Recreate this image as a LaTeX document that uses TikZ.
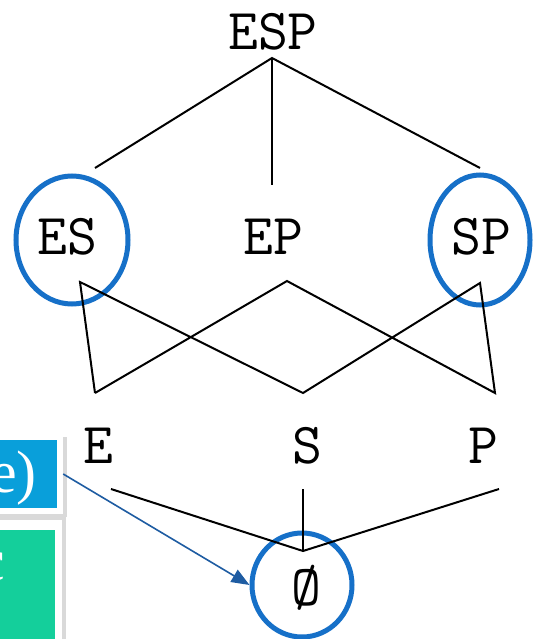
\documentclass[tikz,border=0pt]{standalone}
\usepackage{fontspec}
\setmainfont{Liberation Serif}
\usetikzlibrary{arrows.meta,shapes.geometric}
\definecolor{ringblue}{RGB}{22,112,200}
\definecolor{arrowblue}{RGB}{30,92,162}
\definecolor{boxblue}{RGB}{9,159,218}
\definecolor{boxgreen}{RGB}{20,207,155}
\begin{document}
\begin{tikzpicture}[x=1pt,y=-1pt,
  lbl/.style={font=\ttfamily\fontsize{58}{62}\selectfont, inner sep=0pt, anchor=center},
  edge/.style={draw=black, line width=2pt},
  ring/.style={draw=ringblue, line width=5pt, ellipse, inner sep=0pt},
  frame/.style={fill=white, draw=none, rectangle, inner sep=0pt},
  shade/.style={fill=black, opacity=0.15, draw=none},
  arrowc/.style={draw=arrowblue, line width=1.6pt, -{Triangle[length=18pt,width=14pt]}},
  boxtext/.style={font=\rmfamily\fontsize{60}{64}\selectfont, text=white, inner sep=0pt}]
\useasboundingbox (0,0) rectangle (533,639);
\fill[white] (0,0) rectangle (533,639);

% labels
\node[lbl] (ESP) at (273,32) {ESP};
\node[lbl] (ES) at (67,237) {ES};
\node[lbl] (EP) at (273,237) {EP};
\node[lbl] (SP) at (481,237) {SP};
\node[lbl] (E) at (98,446) {E};
\node[lbl] (S) at (307,446) {S};
\node[lbl] (P) at (483,446) {P};
\node[lbl] (O) at (306,588) {Ø};

% rings
\node[ring, minimum width=112pt, minimum height=128pt] (ESring) at (72,240) {};
\node[ring, minimum width=100pt, minimum height=130pt] (SPring) at (480,240) {};
\node[ring, minimum width=100pt, minimum height=104pt] (Oring) at (302,585) {};

% connector ends
\coordinate (espB) at (272,58);
\coordinate (esT) at (95,168);
\coordinate (epT) at (272,185);
\coordinate (spT) at (480,168);
\coordinate (esB) at (80,282);
\coordinate (epB) at (287,281);
\coordinate (spB) at (480,283);
\coordinate (eT) at (95,393);
\coordinate (sT) at (303,393);
\coordinate (pT) at (495,393);
\coordinate (eB) at (111,489);
\coordinate (sB) at (303,489);
\coordinate (pB) at (499,489);
\coordinate (oT) at (303,551);

\draw[edge] (esT) -- (espB) -- (spT);
\draw[edge] (espB) -- (epT);
\draw[edge] (eT) -- (esB) -- (sT) -- (spB) -- (pT) -- (epB) -- (eT);
\draw[edge] (eB) -- (oT) -- (pB);
\draw[edge] (sB) -- (oT);

% side boxes
\fill[shade] (-5,437) rectangle (67,517);
\node[frame, minimum width=68pt, minimum height=80pt] (bframe) at (29,474) {};
\fill[boxblue] (-5,440) rectangle (57,508);
\node[boxtext, anchor=east] (btext) at (37,478) {e)};

\fill[shade] (-5,517) rectangle (66,645);
\node[frame, minimum width=67pt, minimum height=125pt] (gframe) at (28.5,582) {};
\fill[boxgreen] (-5,530) rectangle (55,645);
\node[boxtext, anchor=east] (gtext) at (5,567) {c};

\draw[arrowc] (bframe.east) -- (Oring.west);
\end{tikzpicture}
\end{document}
